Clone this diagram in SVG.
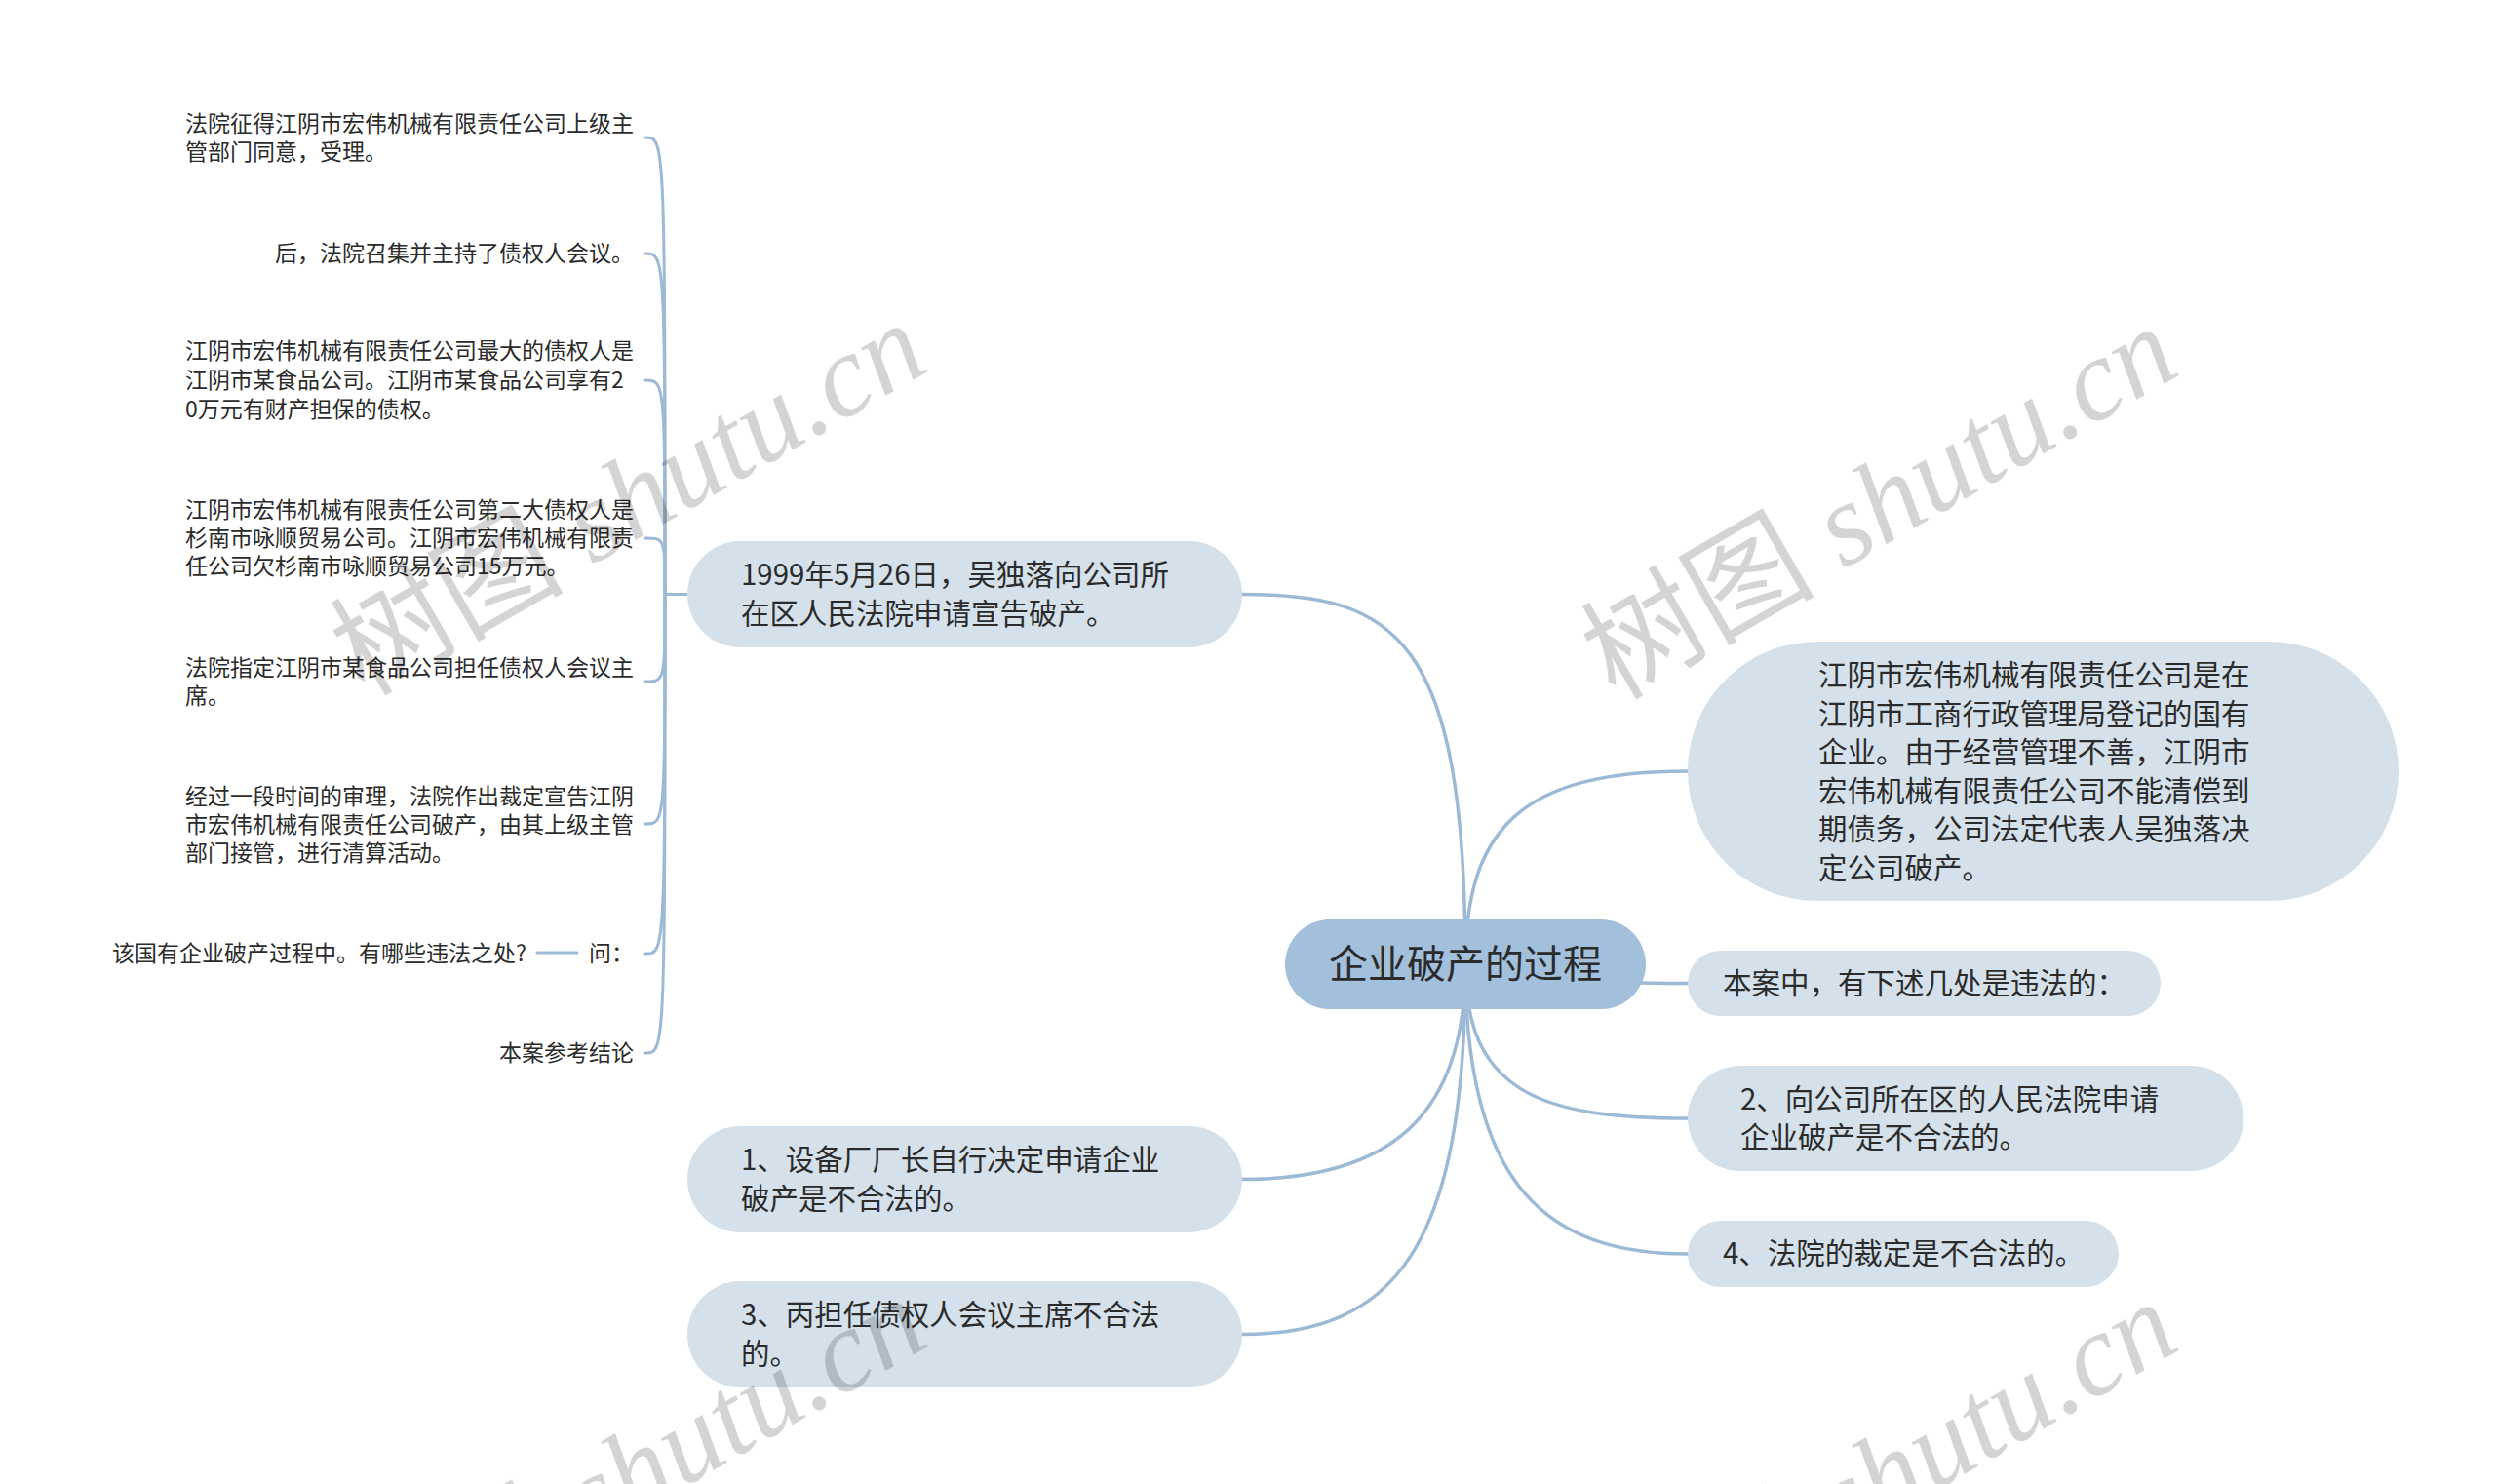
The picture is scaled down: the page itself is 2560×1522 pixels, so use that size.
<svg xmlns="http://www.w3.org/2000/svg" width="2560" height="1522" viewBox="0 0 2560 1522">
<style>
text{font-family:"Noto Sans CJK SC","Liberation Sans",sans-serif;fill:#2b2b2b}
.main{fill:#a2bfdb}
.branch{fill:#d4e0ea}
.tm{font-size:40px}
.tb{font-size:29.5px}
.tl{font-size:23px}
.link{fill:none;stroke:#9cb9d5;stroke-width:3.5;stroke-linecap:round}
.leaf{fill:none;stroke:#9cb9d5;stroke-width:3;stroke-linecap:round}
.wm{font-family:"Liberation Serif","Noto Sans CJK SC",serif;font-size:120px;fill:#000;fill-opacity:0.17}
</style>
<rect width="2560" height="1522" fill="#ffffff"/>
<g id="connectors">
<path class="link" d="M1503 989 C1503 650 1430 609.5 1274 609.5"/>
<path class="link" d="M1503 989 C1503 850 1560 791 1731 791"/>
<path class="link" d="M1503 989 C1600 1008.5 1640 1008.5 1731 1008.5"/>
<path class="link" d="M1503 989 C1503 1120 1580 1147 1731 1147"/>
<path class="link" d="M1503 989 C1503 1220 1590 1286 1731 1286"/>
<path class="link" d="M1503 989 C1503 1150 1420 1209.5 1274 1209.5"/>
<path class="link" d="M1503 989 C1503 1280 1430 1368.5 1274 1368.5"/>
<path class="leaf" d="M705 609.5 L682 609.5"/>
<path class="leaf" d="M682 609.5 C682 141 682 141 662 141"/>
<path class="leaf" d="M682 609.5 C682 260 682 260 662 260"/>
<path class="leaf" d="M682 609.5 C682 390 682 390 662 390"/>
<path class="leaf" d="M682 609.5 C682 552 682 552 662 552"/>
<path class="leaf" d="M682 609.5 C682 699 682 699 662 699"/>
<path class="leaf" d="M682 609.5 C682 845 682 845 662 845"/>
<path class="leaf" d="M682 609.5 C682 978 682 978 662 978"/>
<path class="leaf" d="M682 609.5 C682 1080 682 1080 662 1080"/>
<path class="leaf" d="M551 977 L592 977"/>
</g>
<g id="node-root">
<rect class="main" x="1318" y="943" width="370" height="92" rx="46"/>
<text class="tm" x="1503" y="1003" text-anchor="middle">企业破产的过程</text>
</g>
<g id="node-a">
<rect class="branch" x="705" y="555" width="569" height="109" rx="54.5"/>
<text class="tb" x="760" y="600">1999年5月26日，吴独落向公司所</text>
<text class="tb" x="760" y="639.5">在区人民法院申请宣告破产。</text>
</g>
<g id="node-b">
<rect class="branch" x="705" y="1155" width="569" height="109" rx="54.5"/>
<text class="tb" x="760" y="1200">1、设备厂厂长自行决定申请企业</text>
<text class="tb" x="760" y="1239.5">破产是不合法的。</text>
</g>
<g id="node-c">
<rect class="branch" x="705" y="1314" width="569" height="109" rx="54.5"/>
<text class="tb" x="760" y="1359">3、丙担任债权人会议主席不合法</text>
<text class="tb" x="760" y="1398.5">的。</text>
</g>
<g id="node-d">
<rect class="branch" x="1731" y="658" width="729" height="266" rx="133"/>
<text class="tb" x="1865" y="703">江阴市宏伟机械有限责任公司是在</text>
<text class="tb" x="1865" y="742.5">江阴市工商行政管理局登记的国有</text>
<text class="tb" x="1865" y="782">企业。由于经营管理不善，江阴市</text>
<text class="tb" x="1865" y="821.5">宏伟机械有限责任公司不能清偿到</text>
<text class="tb" x="1865" y="861">期债务，公司法定代表人吴独落决</text>
<text class="tb" x="1865" y="900.5">定公司破产。</text>
</g>
<g id="node-e">
<rect class="branch" x="1731" y="975" width="485" height="67" rx="33.5"/>
<text class="tb" x="1767" y="1019">本案中，有下述几处是违法的：</text>
</g>
<g id="node-f">
<rect class="branch" x="1731" y="1093" width="570" height="108" rx="54"/>
<text class="tb" x="1785" y="1137.5">2、向公司所在区的人民法院申请</text>
<text class="tb" x="1785" y="1177">企业破产是不合法的。</text>
</g>
<g id="node-g">
<rect class="branch" x="1731" y="1252" width="442" height="68" rx="34"/>
<text class="tb" x="1767" y="1296">4、法院的裁定是不合法的。</text>
</g>
<g id="leaf-1">
<text class="tl" x="190" y="135">法院征得江阴市宏伟机械有限责任公司上级主</text>
<text class="tl" x="190" y="164">管部门同意，受理。</text>
</g>
<g id="leaf-2">
<text class="tl" x="650" y="268" text-anchor="end">后，法院召集并主持了债权人会议。</text>
</g>
<g id="leaf-3">
<text class="tl" x="190" y="368">江阴市宏伟机械有限责任公司最大的债权人是</text>
<text class="tl" x="190" y="398">江阴市某食品公司。江阴市某食品公司享有2</text>
<text class="tl" x="190" y="428">0万元有财产担保的债权。</text>
</g>
<g id="leaf-4">
<text class="tl" x="190" y="531">江阴市宏伟机械有限责任公司第二大债权人是</text>
<text class="tl" x="190" y="560">杉南市咏顺贸易公司。江阴市宏伟机械有限责</text>
<text class="tl" x="190" y="589">任公司欠杉南市咏顺贸易公司15万元。</text>
</g>
<g id="leaf-5">
<text class="tl" x="190" y="693">法院指定江阴市某食品公司担任债权人会议主</text>
<text class="tl" x="190" y="722">席。</text>
</g>
<g id="leaf-6">
<text class="tl" x="190" y="825">经过一段时间的审理，法院作出裁定宣告江阴</text>
<text class="tl" x="190" y="854">市宏伟机械有限责任公司破产，由其上级主管</text>
<text class="tl" x="190" y="883">部门接管，进行清算活动。</text>
</g>
<g id="leaf-7">
<text class="tl" x="650" y="986" text-anchor="end">问：</text>
</g>
<g id="leaf-7-1">
<text class="tl" x="540" y="986" text-anchor="end">该国有企业破产过程中。有哪些违法之处?</text>
</g>
<g id="leaf-8">
<text class="tl" x="650" y="1088" text-anchor="end">本案参考结论</text>
</g>
<g id="watermark">
<text class="wm" transform="translate(645 512) rotate(-30)" x="0" y="40" text-anchor="middle">树图 <tspan font-style="italic">shutu.cn</tspan></text>
<text class="wm" transform="translate(1928 516) rotate(-30)" x="0" y="40" text-anchor="middle">树图 <tspan font-style="italic">shutu.cn</tspan></text>
<text class="wm" transform="translate(645 1512) rotate(-30)" x="0" y="40" text-anchor="middle">树图 <tspan font-style="italic">shutu.cn</tspan></text>
<text class="wm" transform="translate(1928 1516) rotate(-30)" x="0" y="40" text-anchor="middle">树图 <tspan font-style="italic">shutu.cn</tspan></text>
</g>
</svg>
